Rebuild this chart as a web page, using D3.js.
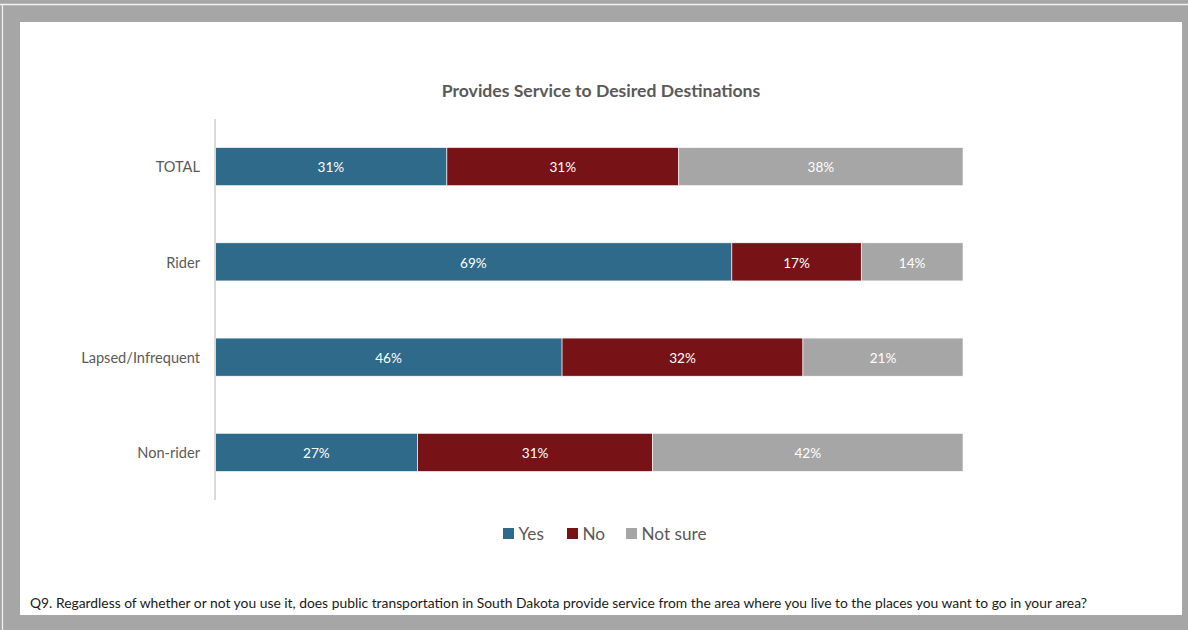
<!DOCTYPE html>
<html><head><meta charset="utf-8">
<script src="https://cdn.jsdelivr.net/npm/d3@7"></script>
<style>
html,body{margin:0;padding:0;background:#a6a6a6;}
svg{display:block;}
</style></head>
<body>
<svg id="chart" width="1188" height="630"></svg>
<script>
const categories = ["TOTAL", "Rider", "Lapsed/Infrequent", "Non-rider"];
const seriesNames = ["Yes", "No", "Not sure"];
const yesValues = [31.0, 69.1, 46.4, 27.1];
const noValues = [31.0, 17.3, 32.2, 31.4];
const notSureValues = [38.0, 13.6, 21.4, 41.5];
const seriesColors = ["#2f6a8b", "#771316", "#a6a6a6"];
const title = "Provides Service to Desired Destinations";
const footnote = "Q9. Regardless of whether or not you use it, does public transportation in South Dakota provide service from the area where you live to the places you want to go in your area?";

const svg = d3.select("#chart");
const font = "Lato, 'Open Sans', sans-serif";

// frame
svg.append("rect").attr("x",0).attr("y",0).attr("width",1188).attr("height",630).attr("fill","#a6a6a6");
svg.append("line").attr("x1",0).attr("x2",1188).attr("y1",4.5).attr("y2",4.5).attr("stroke","#f2f2f2").attr("stroke-width",1.5);
svg.append("line").attr("x1",2.5).attr("x2",2.5).attr("y1",4).attr("y2",630).attr("stroke","#f2f2f2").attr("stroke-width",1.2);
svg.append("rect").attr("x",20).attr("y",22).attr("width",1162).attr("height",593).attr("fill","#ffffff");

const rows = categories.map((c,i)=>({cat:c, "Yes":yesValues[i], "No":noValues[i], "Not sure":notSureValues[i]}));
const stack = d3.stack().keys(seriesNames)(rows);

const x = d3.scaleLinear().domain([0,100]).range([215,963]);
const y = d3.scaleBand().domain(categories).range([119,500]).paddingInner(0.6).paddingOuter(0.3);
const color = d3.scaleOrdinal().domain(seriesNames).range(seriesColors);

// title
svg.append("text").attr("x",601).attr("y",97).attr("text-anchor","middle")
  .attr("font-family",font).attr("font-weight","bold").attr("font-size",17.6).attr("fill","#595959").text(title);

// bars
const g = svg.append("g");
stack.forEach(s=>{
  g.selectAll(null).data(s).join("rect")
   .attr("x",d=>x(d[0])).attr("width",d=>x(d[1])-x(d[0]))
   .attr("y",d=>y(d.data.cat)).attr("height",y.bandwidth())
   .attr("fill",color(s.key)).attr("stroke","#ffffff").attr("stroke-width",0.6);
  g.selectAll(null).data(s).join("text")
   .attr("x",d=>(x(d[0])+x(d[1]))/2).attr("y",d=>y(d.data.cat)+y.bandwidth()/2+0.8)
   .attr("dy","0.36em").attr("text-anchor","middle")
   .attr("font-family",font).attr("font-size",13.6).attr("fill","#ffffff")
   .text(d=>Math.round(d[1]-d[0])+"%");
});

// axis
const yAxis = d3.axisLeft(y).tickSize(0).tickPadding(15);
const ag = svg.append("g").attr("transform","translate(215,0)").call(yAxis);
ag.select(".domain").attr("stroke","#d9d9d9").attr("stroke-width",2).attr("d","M0,119V500");
ag.selectAll("text").attr("font-family",font).attr("font-size",14.6).attr("fill","#595959").attr("dy","0.4em");

// legend
const legendX = [503, 567, 626];
const lg = svg.append("g");
seriesNames.forEach((n,i)=>{
  lg.append("rect").attr("x",legendX[i]).attr("y",528).attr("width",11).attr("height",11).attr("fill",seriesColors[i]);
  lg.append("text").attr("x",legendX[i]+15.5).attr("y",539.5).attr("font-family",font).attr("font-size",17.2).attr("fill","#595959").text(n);
});

// footnote
svg.append("text").attr("x",30).attr("y",608).attr("font-family",font).attr("font-size",13.85).attr("fill","#1a1a1a").text(footnote);
</script>
</body></html>
